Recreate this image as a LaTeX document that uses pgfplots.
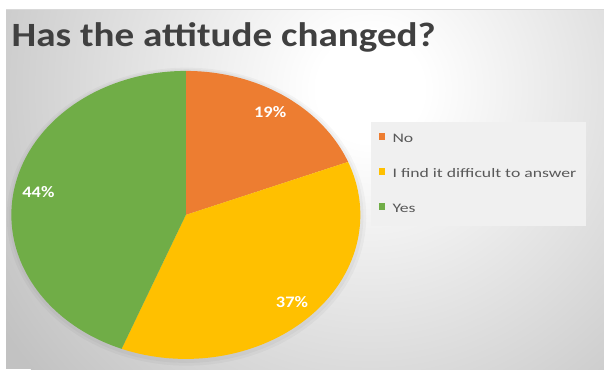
\documentclass[border=0pt]{standalone}
\usepackage{pgfplots}
\pgfplotsset{compat=1.18}
\usepackage{pgfplotstable}
\usepackage{graphicx}
\usepackage{fontspec}
\setmainfont{Carlito}
\definecolor{cOrange}{HTML}{ED7D31}
\definecolor{cYellow}{HTML}{FFC000}
\definecolor{cGreen}{HTML}{70AD47}
\definecolor{bggray}{HTML}{C2C2C2}
\definecolor{titlegray}{HTML}{404040}
\definecolor{leggray}{HTML}{595959}
\definecolor{legfill}{HTML}{F0F0F0}
\pgfdeclareradialshading{bgshade}{\pgfpoint{0bp}{0bp}}{color(0bp)=(white); color(3bp)=(white); color(25bp)=(bggray); color(50bp)=(bggray)}

\pgfplotstableread{
label value
No 19
Difficult 37
Yes 44
}\piedata

\begin{document}
\begin{tikzpicture}[x=1pt,y=1pt]
\useasboundingbox (0,0) rectangle (604,369);
\fill[white] (0,0) rectangle (604,369);
\begin{scope}
\clip (6,0) rectangle (604,359.5);
\fill[bggray] (6,0) rectangle (604,359.5);
\shade[shading=bgshade] (370,280) circle (440);
\end{scope}
\draw[white!85!black, line width=0.8pt] (6,359.3) -- (604,359.3);
\node[anchor=base west, inner sep=0, text=titlegray, font=\fontsize{34}{40}\selectfont\bfseries] at (11.5,322) {\scalebox{1.15}[1]{Has the attitude changed?}};

\pgfplotstablegetelem{0}{value}\of\piedata \let\va\pgfplotsretval
\pgfplotstablegetelem{1}{value}\of\piedata \let\vb\pgfplotsretval
\pgfplotstablegetelem{2}{value}\of\piedata \let\vc\pgfplotsretval
\pgfmathsetmacro\aA{\va*3.6}
\pgfmathsetmacro\aB{(\va+\vb)*3.6}
\pgfmathsetmacro\aC{(\va+\vb+\vc)*3.6}
\pgfmathsetmacro\mA{\aA/2}
\pgfmathsetmacro\mB{(\aA+\aB)/2}
\pgfmathsetmacro\mC{(\aB+\aC)/2}

\begin{axis}[at={(6.5,7)}, anchor=south west, width=349pt, height=288pt,
  scale only axis, hide axis, xmin=-1, xmax=1, ymin=-1, ymax=1, clip=false,
  legend image code/.code={\path (0pt,0pt) (12pt,0pt); \fill[#1] (0pt,-0.5pt) rectangle (6.5pt,6pt);},
  legend cell align=left,
  legend style={at={(1.0287,0.8229)}, anchor=north west,
    font=\fontsize{13}{15}\selectfont, text=leggray, fill=legfill, draw=none,
    inner xsep=8pt, inner ysep=9pt, row sep=19pt,
    nodes={inner sep=2pt, text height=9pt, text depth=3pt}},
]
\addplot[forget plot, draw=none, fill=black, fill opacity=0.03, domain=0:360, samples=120] ({1.03*sin(x)+0.004},{1.035*cos(x)-0.012}) -- cycle;
\addplot[forget plot, draw=none, fill=black, fill opacity=0.03, domain=0:360, samples=120] ({1.015*sin(x)+0.003},{1.02*cos(x)-0.008}) -- cycle;
\addplot[draw=none, fill=cOrange, domain=0:\aA, samples=60] ({sin(x)},{cos(x)}) -- (0,0) -- cycle;
\addlegendentry{\scalebox{1.36}[1]{No}}
\addplot[draw=none, fill=cYellow, domain=\aA:\aB, samples=90] ({sin(x)},{cos(x)}) -- (0,0) -- cycle;
\addlegendentry{\scalebox{1.36}[1]{I find it difficult to answer}}
\addplot[draw=none, fill=cGreen, domain=\aB:\aC, samples=100] ({sin(x)},{cos(x)}) -- (0,0) -- cycle;
\addlegendentry{\scalebox{1.36}[1]{Yes}}
\node[text=white, font=\fontsize{16}{18}\selectfont\bfseries] at (axis cs:{0.86*sin(\mA)},{0.86*cos(\mA)}) {\scalebox{1.15}[1]{\va\%}};
\node[text=white, font=\fontsize{16}{18}\selectfont\bfseries] at (axis cs:{0.86*sin(\mB)},{0.86*cos(\mB)}) {\scalebox{1.15}[1]{\vb\%}};
\node[text=white, font=\fontsize{16}{18}\selectfont\bfseries] at (axis cs:{0.86*sin(\mC)},{0.86*cos(\mC)}) {\scalebox{1.15}[1]{\vc\%}};
\end{axis}
\end{tikzpicture}
\end{document}
